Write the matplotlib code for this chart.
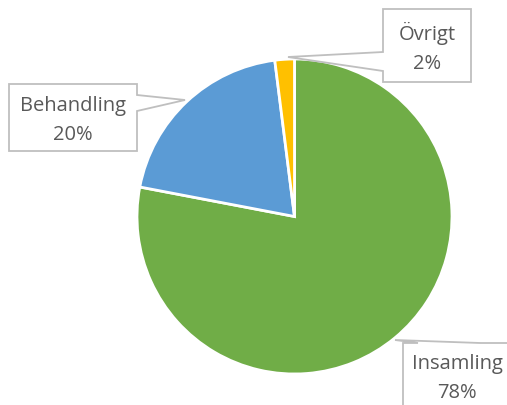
import matplotlib
matplotlib.use("Agg")
import matplotlib.pyplot as plt
from matplotlib.patches import Polygon

categories = ["Insamling", "Behandling", "Övrigt"]
values = [78, 20, 2]
colors = ["#70AD47", "#5B9BD5", "#FFC000"]

W, H = 507, 406
fig = plt.figure(figsize=(W / 100, H / 100), dpi=100)
ax = fig.add_axes([0, 0, 1, 1])
ax.set_xlim(0, W)
ax.set_ylim(0, H)
ax.set_aspect("equal")
ax.axis("off")

def Y(y):
    return H - y

cx, cy, r = 294.5, 217.5, 157.5
ax.pie(values, colors=colors, startangle=90, counterclock=False,
       center=(cx, Y(cy)), radius=r, frame=True,
       wedgeprops=dict(edgecolor="white", linewidth=2))
ax.set_xlim(0, W)
ax.set_ylim(0, H)
ax.axis("off")

callouts = {
    "Övrigt": dict(box=(383, 10, 471, 83), side="left", base=(53, 72), tip=(288, 58), tc=(427, 48)),
    "Behandling": dict(box=(9, 85, 137, 152), side="right", base=(96, 112), tip=(185, 101), tc=(73, 120)),
    "Insamling": dict(box=(403, 344, 520, 420), side="top", base=(418, 480), tip=(395, 341), tc=(457, 379)),
}

total = sum(values)
for cat, val in zip(categories, values):
    c = callouts[cat]
    x0, y0, x1, y1 = c["box"]
    tx, ty = c["tip"]
    b0, b1 = c["base"]
    if c["side"] == "left":
        pts = [(x0, y0), (x1, y0), (x1, y1), (x0, y1), (x0, b1), (tx, ty), (x0, b0)]
    elif c["side"] == "right":
        pts = [(x0, y0), (x1, y0), (x1, b0), (tx, ty), (x1, b1), (x1, y1), (x0, y1)]
    else:
        pts = [(x0, y0), (b0, y0), (tx, ty), (b1, y0), (x1, y0), (x1, y1), (x0, y1)]
    poly = Polygon([(px, Y(py)) for px, py in pts], closed=True,
                   facecolor="white", edgecolor="#BFBFBF", linewidth=1.3, zorder=5)
    ax.add_patch(poly)
    pct = round(100 * val / total)
    ax.text(c["tc"][0], Y(c["tc"][1]), f"{cat}\n{pct}%", ha="center", va="center",
            fontsize=14.5, color="#595959", family="Open Sans", linespacing=1.6, zorder=6)

fig.savefig("out.png", dpi=100)
